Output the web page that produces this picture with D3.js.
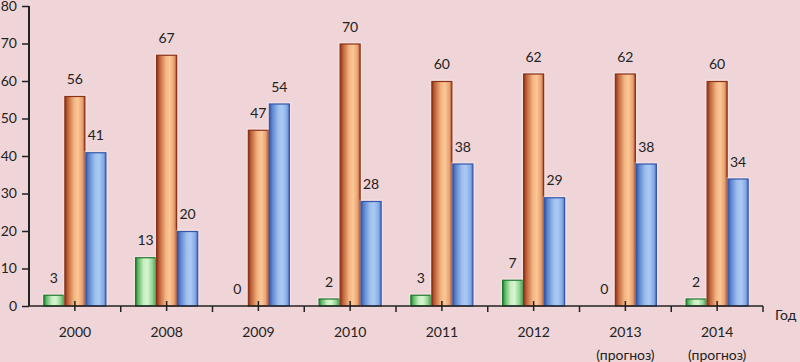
<!DOCTYPE html>
<html><head><meta charset="utf-8">
<script src="https://cdn.jsdelivr.net/npm/d3@7"></script>
<style>body{margin:0;background:#f0d5d8;} svg{display:block;}</style>
</head><body>
<svg id="c" width="800" height="362"></svg>
<script>
const categories = ["2000","2008","2009","2010","2011","2012","2013","2014"];
const subLabels = ["","","","","","","(прогноз)","(прогноз)"];
const seriesNames = ["s1","s2","s3"];
const greenValues = [3,13,0,2,3,7,0,2];
const orangeValues = [56,67,47,70,60,62,62,60];
const blueValues = [41,20,54,28,38,29,38,34];
const yTicks = [0,10,20,30,40,50,60,70,80];
const axisTitle = "Год";

const series = [greenValues, orangeValues, blueValues];
const svg = d3.select("#c");
const font = "Lato, 'Open Sans', sans-serif";
svg.append("rect").attr("width",800).attr("height",362).attr("fill","#f0d5d8");

const pLeft = 29, pRight = 763, pTop = 6, pBottom = 306;
const x = d3.scaleBand().domain(categories).range([pLeft,pRight]).paddingInner(0.313).paddingOuter(0.1565);
const xs = d3.scaleBand().domain(seriesNames).range([0,x.bandwidth()]);
const y = d3.scaleLinear().domain([0,80]).range([pBottom,pTop]);

const defs = svg.append("defs");
const grads = [
  {id:"gG", stops:[[0,"#237a30"],[0.12,"#5cb865"],[0.4,"#c9efc2"],[0.6,"#d6f4cf"],[0.85,"#8fd391"],[1,"#3f9a49"]]},
  {id:"gO", stops:[[0,"#8a3218"],[0.15,"#c0643a"],[0.45,"#f3b481"],[0.65,"#fbc896"],[0.88,"#e8a070"],[1,"#a9492a"]]},
  {id:"gB", stops:[[0,"#3557a8"],[0.15,"#5f86d0"],[0.45,"#9ec0ee"],[0.65,"#aacaf3"],[0.88,"#86aae6"],[1,"#4c72c2"]]}
];
grads.forEach(g=>{
  const lg = defs.append("linearGradient").attr("id",g.id).attr("x1","0").attr("x2","1").attr("y1","0").attr("y2","0");
  g.stops.forEach(s=>lg.append("stop").attr("offset",s[0]).attr("stop-color",s[1]));
});
const strokes = ["#1f7a2c","#8a3218","#3557a8"];

const gBars = svg.append("g");
series.forEach((vals,si)=>{
  vals.forEach((v,i)=>{
    const bx = x(categories[i]) + xs(seriesNames[si]);
    const bw = xs.bandwidth();
    if (v>0) {
      gBars.append("rect").attr("x",bx-1.5).attr("y",y(v)-1.5).attr("width",bw+3).attr("height",pBottom-y(v)+1.5)
        .attr("fill","rgba(255,255,255,0.25)");
      gBars.append("rect").attr("x",bx+0.5).attr("y",y(v)+0.5).attr("width",bw-1).attr("height",pBottom-y(v)-0.5)
        .attr("fill","url(#"+grads[si].id+")").attr("stroke",strokes[si]).attr("stroke-width",1.2);
    }
    svg.append("text").attr("x",bx+bw/2).attr("y",y(v)-12).attr("text-anchor","middle")
      .attr("font-family",font).attr("font-size",14).attr("fill","#222").text(v);
  });
});

// Y axis
const yAxis = svg.append("g").attr("transform",`translate(${pLeft},0)`)
  .call(d3.axisLeft(y).tickValues(yTicks).tickSize(7).tickPadding(5));
yAxis.select(".domain").attr("stroke","#222").attr("stroke-width",2).attr("d",`M0,${pTop}V${pBottom}`);
yAxis.selectAll(".tick line").attr("stroke","#222").attr("stroke-width",1.5);
yAxis.selectAll(".tick text").attr("font-family",font).attr("font-size",14).attr("fill","#222");

// X axis
const xAxis = svg.append("g").attr("transform",`translate(0,${pBottom})`)
  .call(d3.axisBottom(x).tickSize(0).tickPadding(26).tickFormat(d=>d));
xAxis.select(".domain").attr("stroke","#222").attr("stroke-width",1.6).attr("d",`M${pLeft},0H${pRight}`);
xAxis.selectAll(".tick text").attr("font-family",font).attr("font-size",14).attr("fill","#222").attr("dy",0).attr("y",31);
xAxis.selectAll(".tick").append("line").attr("y1",-5).attr("y2",5).attr("stroke","#222").attr("stroke-width",1.5);
xAxis.selectAll(".tick").each(function(d,i){
  if (subLabels[i]) d3.select(this).append("text").attr("y",54).attr("text-anchor","middle")
    .attr("font-family",font).attr("font-size",14).attr("fill","#222").text(subLabels[i]);
});
const bounds = categories.map(c=>x(c)-x.step()*x.paddingInner()/2).concat([pRight]);
xAxis.selectAll(".bt").data(bounds.slice(1)).enter().append("line")
  .attr("x1",d=>d).attr("x2",d=>d).attr("y1",0).attr("y2",6).attr("stroke","#222").attr("stroke-width",1.5);

svg.append("text").attr("x",775).attr("y",320).attr("font-family",font).attr("font-size",14).attr("fill","#222").text(axisTitle);
</script>
</body></html>
